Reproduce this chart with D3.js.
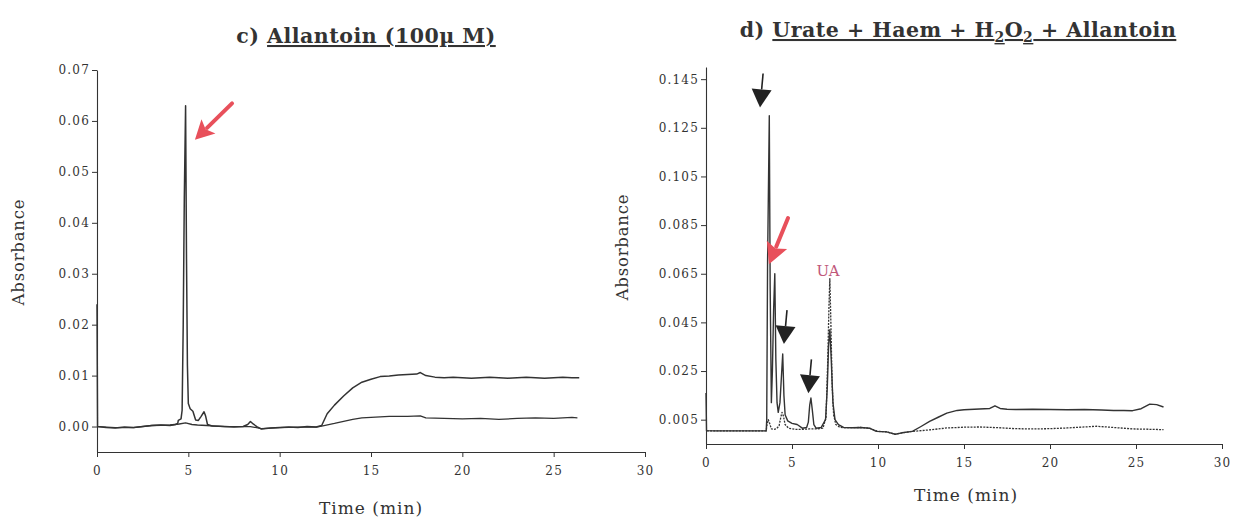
<!DOCTYPE html>
<html>
<head>
<meta charset="utf-8">
<script src="https://cdn.jsdelivr.net/npm/d3@7"></script>
<style>
  html, body { margin: 0; padding: 0; background: #fff; }
  svg { display: block; }
</style>
</head>
<body>
<svg id="chart" width="1237" height="518"></svg>
<script>
// ---------------- DATA ----------------
// Panel c) Allantoin (100 µM)
const cXTicks = [0, 5, 10, 15, 20, 25, 30];
const cYTicks = [0.00, 0.01, 0.02, 0.03, 0.04, 0.05, 0.06, 0.07];
const cTimeA = [0, 0.03, 0.5, 1, 1.5, 2, 2.5, 3, 3.5, 4, 4.3, 4.42, 4.45, 4.6, 4.66, 4.72, 4.78, 4.85, 4.9, 4.95, 5.0, 5.1, 5.25, 5.4, 5.55, 5.7, 5.86, 5.95, 6.05, 6.3, 7, 7.5, 8, 8.25, 8.4, 8.55, 8.75, 9, 9.5, 10, 10.5, 11, 11.5, 12, 12.3, 12.6, 13, 13.5, 14, 14.5, 15, 15.5, 16, 16.5, 17, 17.5, 17.7, 18, 18.5, 19, 19.5, 20, 20.5, 21, 21.5, 22, 22.5, 23, 23.5, 24, 24.5, 25, 25.5, 26, 26.4];
const cAbsA  = [0.024, 0.0, -0.0002, -0.0003, -0.0001, -0.0002, 0.0, 0.0002, 0.0003, 0.0002, 0.0004, 0.0006, 0.0012, 0.0015, 0.0032, 0.02, 0.045, 0.063, 0.033, 0.012, 0.0045, 0.0035, 0.003, 0.0013, 0.0012, 0.002, 0.0029, 0.002, 0.0004, 0.0001, 0.0, -0.0001, 0.0, 0.0004, 0.001, 0.0005, 0.0, -0.0005, -0.0003, -0.0002, -0.0001, -0.0002, 0.0, -0.0001, 0.0002, 0.0025, 0.0042, 0.006, 0.0076, 0.0087, 0.0093, 0.0098, 0.0099, 0.0101, 0.0102, 0.0103, 0.0106, 0.01, 0.0097, 0.0096, 0.0097, 0.0096, 0.0095, 0.0096, 0.0097, 0.0096, 0.0095, 0.0096, 0.0097, 0.0096, 0.0095, 0.0096, 0.0097, 0.0096, 0.0096];
const cTimeB = [0.05, 1, 2, 3, 4, 4.5, 4.85, 5.2, 5.5, 6, 7, 8, 8.4, 9, 10, 11, 12, 12.3, 13, 13.5, 14, 14.5, 15, 16, 17, 17.7, 18, 19, 20, 21, 22, 23, 24, 25, 26, 26.3];
const cAbsB  = [0.0, -0.0002, -0.0002, 0.0002, 0.0003, 0.0005, 0.0007, 0.0004, 0.0003, 0.0002, 0.0, 0.0, 0.0, -0.0004, -0.0002, -0.0001, -0.0001, 0.0001, 0.0006, 0.001, 0.0014, 0.0017, 0.0018, 0.002, 0.002, 0.0021, 0.0017, 0.0016, 0.0015, 0.0016, 0.0014, 0.0016, 0.0017, 0.0016, 0.0018, 0.0017];

// Panel d) Urate + Haem + H2O2 + Allantoin
const dXTicks = [0, 5, 10, 15, 20, 25, 30];
const dYTicks = [0.005, 0.025, 0.045, 0.065, 0.085, 0.105, 0.125, 0.145];
const dTimeA = [0, 0.03, 0.5, 1, 2, 3, 3.5, 3.53, 3.58, 3.63, 3.68, 3.73, 3.8, 3.86, 3.93, 4.0, 4.06, 4.13, 4.2, 4.3, 4.38, 4.46, 4.53, 4.6, 4.75, 5.0, 5.3, 5.6, 5.85, 5.95, 6.03, 6.1, 6.18, 6.27, 6.4, 6.7, 6.95, 7.05, 7.13, 7.2, 7.28, 7.38, 7.5, 7.7, 8, 8.5, 9, 9.5, 9.9, 10.5, 11, 11.4, 12, 12.5, 13, 13.5, 14, 14.6, 15, 15.9, 16.5, 16.8, 17.1, 17.5, 18, 19, 20, 21, 22, 23, 23.7, 24.3, 24.8, 25.3, 25.8, 26.2, 26.6];
const dAbsA  = [0.016, 0.0005, 0.0004, 0.0004, 0.0004, 0.0004, 0.0004, 0.005, 0.07, 0.1, 0.130, 0.06, 0.012, 0.025, 0.05, 0.065, 0.03, 0.012, 0.008, 0.012, 0.022, 0.032, 0.015, 0.007, 0.0045, 0.0035, 0.003, 0.0015, 0.0018, 0.004, 0.011, 0.0139, 0.009, 0.003, 0.0015, 0.0018, 0.005, 0.018, 0.036, 0.042, 0.03, 0.012, 0.005, 0.003, 0.0018, 0.0017, 0.0018, 0.0015, 0.0002, 0.0, -0.001, -0.0004, 0.0002, 0.0022, 0.0043, 0.006, 0.0077, 0.0088, 0.0091, 0.0094, 0.0096, 0.0107, 0.0096, 0.0093, 0.0092, 0.0093, 0.0092, 0.0091, 0.0092, 0.009, 0.0088, 0.0088, 0.0087, 0.0095, 0.0114, 0.0112, 0.0102];
const dTimeB = [0.05, 1, 2, 3, 3.5, 3.55, 3.62, 3.7, 3.8, 3.95, 4.1, 4.25, 4.35, 4.42, 4.5, 4.6, 4.8, 5.2, 5.6, 6, 6.4, 6.8, 6.98, 7.08, 7.15, 7.2, 7.26, 7.33, 7.42, 7.55, 7.8, 8.5, 9, 9.5, 10, 10.5, 11, 11.4, 12, 13, 14, 15, 15.9, 17, 18, 19, 20, 21, 22, 22.7, 23.5, 24.8, 25.5, 26.6];
const dAbsB  = [0.0004, 0.0004, 0.0004, 0.0004, 0.0004, 0.003, 0.005, 0.0035, 0.0012, 0.001, 0.0013, 0.0025, 0.006, 0.008, 0.0065, 0.003, 0.0015, 0.001, 0.001, 0.0012, 0.0012, 0.0015, 0.006, 0.03, 0.052, 0.063, 0.045, 0.02, 0.007, 0.003, 0.0018, 0.0017, 0.0018, 0.0015, 0.0002, 0.0, -0.001, -0.0004, 0.0002, 0.0008, 0.0016, 0.0019, 0.002, 0.0017, 0.0013, 0.0012, 0.0013, 0.0016, 0.002, 0.0023, 0.0019, 0.0012, 0.0011, 0.0009];

// annotation anchors (data coordinates: time, absorbance)
const cRedArrowTip = [5.36, 0.0563];
const dRedArrowTip = [3.66, 0.0689];
const dBlackArrowTips = [[3.14, 0.1334], [4.53, 0.0361], [5.95, 0.0159]];
const dLabelUA = [7.1, 0.0640];

// ---------------- DRAWING ----------------
const svg = d3.select("#chart");
svg.append("rect").attr("width", 1237).attr("height", 518).attr("fill", "#fff");

const INK = "#333";
const SERIF = "'DejaVu Serif', 'Liberation Serif', serif";
const RED = "#e8505b";

function panel(cfg) {
  const x = d3.scaleLinear().domain([0, 30]).range(cfg.xRange);
  const y = d3.scaleLinear().domain(cfg.yDomain).range(cfg.yRange);
  const g = svg.append("g");

  const xAxis = g.append("g")
    .attr("transform", `translate(0,${cfg.yRange[0]})`)
    .call(d3.axisBottom(x).tickValues(cfg.xTicks).tickSize(5).tickSizeOuter(0).tickPadding(9).tickFormat(d3.format("d")));
  const yAxis = g.append("g")
    .attr("transform", `translate(${cfg.xRange[0]},0)`)
    .call(d3.axisLeft(y).tickValues(cfg.yTicks).tickSize(5).tickSizeOuter(0).tickPadding(2).tickFormat(d3.format(cfg.yFmt)));
  [xAxis, yAxis].forEach(a => {
    a.select(".domain").attr("stroke", INK).attr("stroke-width", 1.1);
    a.selectAll(".tick line").attr("stroke", INK).attr("stroke-width", 1);
    a.selectAll(".tick text").attr("fill", INK).style("font-family", SERIF)
      .style("font-size", "12px").style("letter-spacing", "1.2px");
  });

  const line = d3.line().x(d => x(d[0])).y(d => y(d[1]));
  cfg.traces.forEach(tr => {
    const pts = tr.t.map((t, i) => [t, tr.a[i]]);
    g.append("path").datum(pts).attr("d", line)
      .attr("fill", "none").attr("stroke", INK)
      .attr("stroke-width", tr.w || 1.4)
      .attr("stroke-linejoin", "round")
      .attr("stroke-dasharray", tr.dash || null);
  });

  // axis titles
  g.append("text")
    .attr("transform", `translate(${cfg.yLabelX},${cfg.yLabelY}) rotate(-90)`)
    .attr("text-anchor", "middle").attr("fill", INK)
    .style("font-family", SERIF).style("font-size", "16.5px").style("letter-spacing", "0.8px")
    .text("Absorbance");
  g.append("text")
    .attr("x", cfg.xLabelX).attr("y", cfg.xLabelY)
    .attr("text-anchor", "middle").attr("fill", INK)
    .style("font-family", SERIF).style("font-size", "17px").style("letter-spacing", "1px")
    .text("Time (min)");
  return { x, y, g };
}

function redArrow(px, py, dx, dy, len, head, halfW, sw) {
  const n = Math.hypot(dx, dy); dx /= n; dy /= n;
  const nx = -dy, ny = dx;
  const bx = px - dx * head, by = py - dy * head;
  svg.append("line")
    .attr("x1", px - dx * len).attr("y1", py - dy * len)
    .attr("x2", bx + dx * 2).attr("y2", by + dy * 2)
    .attr("stroke", RED).attr("stroke-width", sw).attr("stroke-linecap", "round");
  svg.append("path")
    .attr("d", `M${px},${py}L${bx + nx * halfW},${by + ny * halfW}L${bx + dx * 4},${by + dy * 4}L${bx - nx * halfW},${by - ny * halfW}Z`)
    .attr("fill", RED);
}

function blackArrow(px, py, dx, dy, len, head, halfW) {
  const n = Math.hypot(dx, dy); dx /= n; dy /= n;
  const nx = -dy, ny = dx;
  const bx = px - dx * head, by = py - dy * head;
  svg.append("line")
    .attr("x1", px - dx * len).attr("y1", py - dy * len)
    .attr("x2", bx).attr("y2", by)
    .attr("stroke", "#222").attr("stroke-width", 1.6);
  svg.append("path")
    .attr("d", `M${px},${py}L${bx + nx * halfW},${by + ny * halfW}L${bx - nx * halfW},${by - ny * halfW}Z`)
    .attr("fill", "#222");
}

// Panel c
const pc = panel({
  xRange: [97, 645], yRange: [452, 70], yDomain: [-0.005, 0.07],
  xTicks: cXTicks, yTicks: cYTicks, yFmt: ".2f",
  traces: [
    { t: cTimeB, a: cAbsB, w: 1.3 },
    { t: cTimeA, a: cAbsA, w: 1.5 }
  ],
  yLabelX: 24, yLabelY: 252, xLabelX: 371, xLabelY: 514
});

// Panel d
const pd = panel({
  xRange: [706, 1222], yRange: [444, 67], yDomain: [-0.005, 0.15],
  xTicks: dXTicks, yTicks: dYTicks, yFmt: ".3f",
  traces: [
    { t: dTimeB, a: dAbsB, w: 1.3, dash: "2,1.2" },
    { t: dTimeA, a: dAbsA, w: 1.4 }
  ],
  yLabelX: 628, yLabelY: 247, xLabelX: 966, xLabelY: 501
});

// annotations
redArrow(pc.x(cRedArrowTip[0]), pc.y(cRedArrowTip[1]), -36.7, 36, 52, 19, 10, 4);
redArrow(pd.x(dRedArrowTip[0]), pd.y(dRedArrowTip[1]), -19, 46, 50, 21, 11, 4);
dBlackArrowTips.forEach(tp => {
  blackArrow(pd.x(tp[0]), pd.y(tp[1]), -3, 33, 34, 18, 10);
});
svg.append("text")
  .attr("x", pd.x(dLabelUA[0])).attr("y", pd.y(dLabelUA[1]))
  .attr("text-anchor", "middle").attr("fill", "#c0587a")
  .style("font-family", SERIF).style("font-size", "15px")
  .text("UA");

// titles
const tc = svg.append("text").attr("x", 366).attr("y", 43).attr("text-anchor", "middle")
  .attr("fill", INK).style("font-family", SERIF).style("font-weight", "bold")
  .style("font-size", "20.5px").style("letter-spacing", "0.5px");
tc.append("tspan").text("c) ");
tc.append("tspan").style("text-decoration", "underline").text("Allantoin (100µ M)");

const td = svg.append("text").attr("x", 958).attr("y", 37).attr("text-anchor", "middle")
  .attr("fill", INK).style("font-family", SERIF).style("font-weight", "bold")
  .style("font-size", "20.5px").style("letter-spacing", "0.5px");
td.append("tspan").text("d) ");
td.append("tspan").style("text-decoration", "underline").text("Urate + Haem + H");
td.append("tspan").attr("dy", 5).style("font-size", "14px").style("text-decoration", "underline").text("2");
td.append("tspan").attr("dy", -5).style("text-decoration", "underline").text("O");
td.append("tspan").attr("dy", 5).style("font-size", "14px").style("text-decoration", "underline").text("2");
td.append("tspan").attr("dy", -5).style("text-decoration", "underline").text(" + Allantoin");
</script>
</body>
</html>
